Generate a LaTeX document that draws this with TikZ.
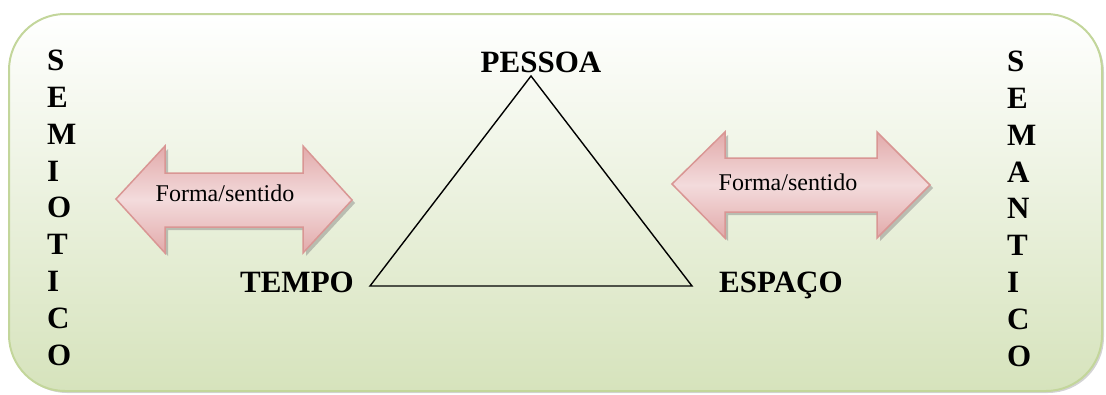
\documentclass[tikz,border=0pt]{standalone}
\usepackage{fontspec}
\setmainfont{Liberation Serif}
\usepackage{tikz}
\usetikzlibrary{positioning,shadows}

\definecolor{boxline}{RGB}{195,214,155}
\definecolor{boxbot}{RGB}{214,227,188}
\definecolor{arrline}{RGB}{217,150,148}
\definecolor{arrfill}{RGB}{226,170,170}
\definecolor{arrlight}{RGB}{243,219,220}

\tikzset{
  frame/.style={draw=boxline, line width=2pt, rounded corners=56pt, top color=white, bottom color=boxbot,
    drop shadow={shadow xshift=2pt, shadow yshift=-2pt, opacity=0.35}},
  fsarrow/.style={draw=arrline, line width=1.5pt, top color=arrfill, bottom color=arrfill, middle color=arrlight,
    drop shadow={shadow xshift=3pt, shadow yshift=-3pt, opacity=0.45}},
  corner/.style={font=\fontsize{31}{31}\selectfont\bfseries, inner sep=0pt, text depth=0pt},
  column/.style={font=\fontsize{31}{36.8}\selectfont\bfseries, align=left, anchor=north west, inner sep=0pt},
  fstext/.style={font=\fontsize{24}{24}\selectfont, inner sep=0pt}
}

\begin{document}
\begin{tikzpicture}[x=1pt, y=-1pt]
\useasboundingbox (0,0) rectangle (1106,394);
\draw[frame] (9,14) rectangle (1102,391);

% side columns
\node[column] (semio) at (47,50) {S\\E\\M\\I\\O\\T\\I\\C\\O};
\node[column] (seman) at (1007,51) {S\\E\\M\\A\\N\\T\\I\\C\\O};

% triangle
\coordinate (apex) at (531,76); \coordinate (tl) at (370,286); \coordinate (tr) at (692,286);
\draw[line width=1.4pt, line join=miter] (apex) -- (tl) -- (tr) -- cycle;
\node[corner, above=3pt of apex, xshift=10pt] (pessoa) {PESSOA};
\node[corner, left=16pt of tl, yshift=4pt] (tempo) {TEMPO};
\node[corner, right=27pt of tr, yshift=4pt] (espaco) {ESPAÇO};

% double arrows
\draw[fsarrow] (116,199) -- (165,146) -- (165,173) -- (303,173) -- (303,146) -- (352,200)
  -- (303,253) -- (303,227) -- (165,227) -- (165,253) -- cycle;
\node[fstext] (fsleft) at (225,193) {Forma/sentido};
\draw[fsarrow] (672,184) -- (725,132) -- (725,158) -- (877,158) -- (877,132) -- (930,185)
  -- (877,238) -- (877,212) -- (725,212) -- (725,238) -- cycle;
\node[fstext] (fsright) at (788,182) {Forma/sentido};
\end{tikzpicture}
\end{document}
